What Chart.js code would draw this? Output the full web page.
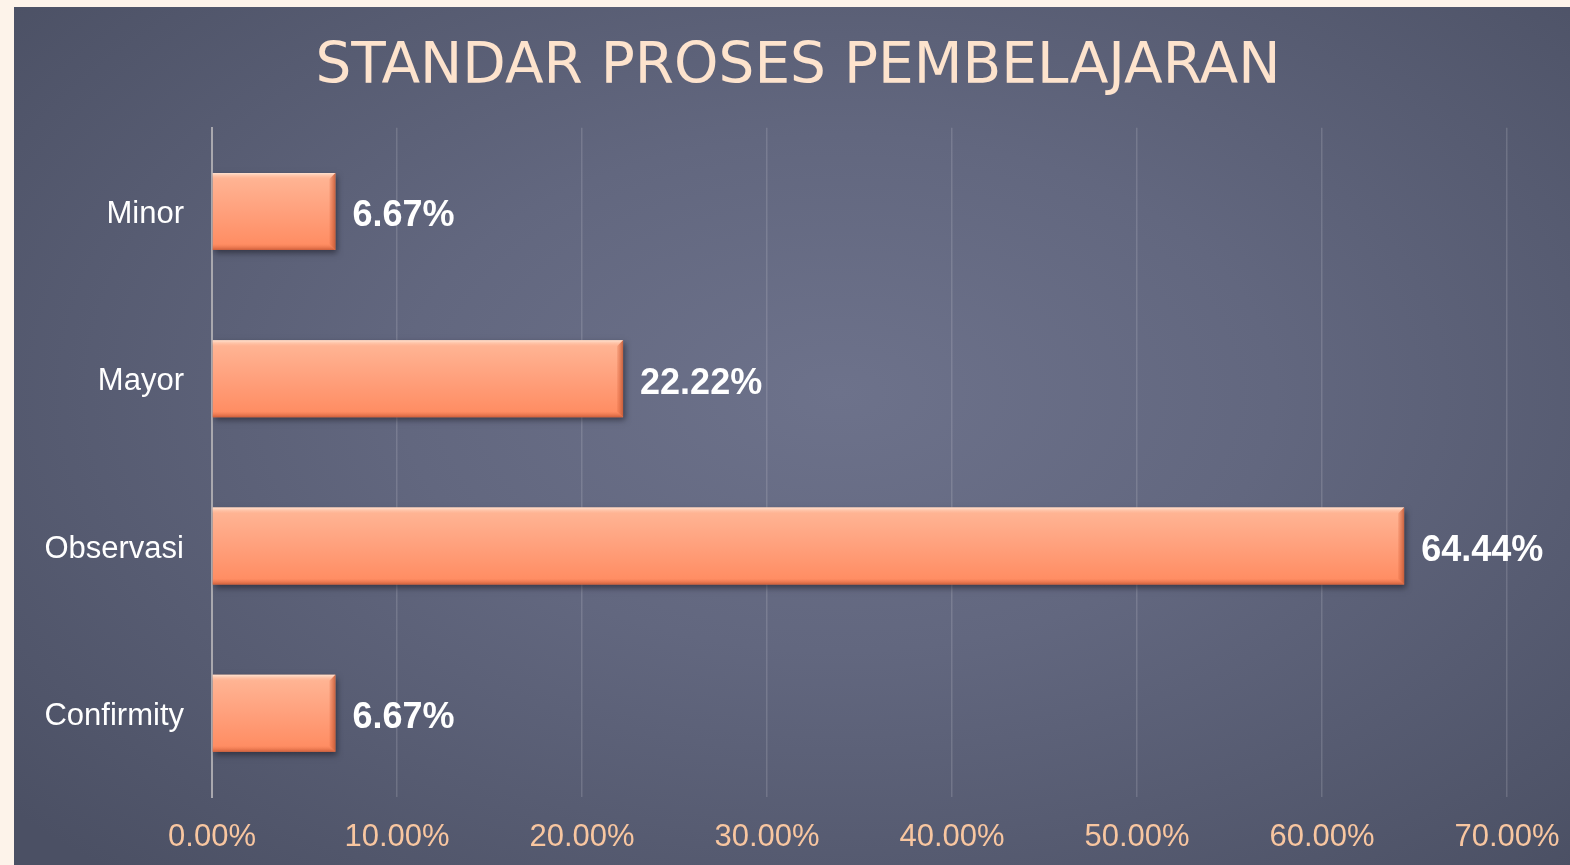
<!DOCTYPE html>
<html>
<head>
<meta charset="utf-8">
<script src="https://cdn.jsdelivr.net/npm/chart.js@4"></script>
<style>
  html, body { margin: 0; padding: 0; background: #fdf3ea; overflow: hidden; }
  #panel {
    position: absolute; left: 14px; top: 7px; width: 1556px; height: 858px;
    background: radial-gradient(ellipse 70% 75% at 53% 45%, #6d728b 0%, #62677f 40%, #4b5064 100%);
  }
</style>
</head>
<body>
<div id="panel"><canvas id="chart" width="1556" height="858"></canvas></div>
<script>
const chartTitle = 'STANDAR PROSES PEMBELAJARAN';
const categories = ['Minor', 'Mayor', 'Observasi', 'Confirmity'];
const values = [6.67, 22.22, 64.44, 6.67];
const axisMax = 70;
const axisStep = 10;

const barPct = 0.46;

function barGradient(ctx) {
	const chart = ctx.chart;
	const y = chart.scales && chart.scales.y;
	if (!y || y.height == null) return '#ff9b72';
	const center = y.getPixelForValue(ctx.dataIndex);
	const half = (y.height / categories.length) * barPct / 2;
	const g = chart.ctx.createLinearGradient(0, center - half, 0, center + half);
	g.addColorStop(0, '#ffb797');
	g.addColorStop(0.5, '#ffa07c');
	g.addColorStop(1, '#ff8a5f');
	return g;
}

// shadow under the bars, then a bevel and the value labels on top
const barStyle = {
	id: 'barStyle',
	beforeDatasetsDraw(chart) {
		const c = chart.ctx;
		c.save();
		c.shadowColor = 'rgba(20,20,30,0.55)';
		c.shadowBlur = 6;
		c.shadowOffsetX = 2;
		c.shadowOffsetY = 3;
	},
	afterDatasetsDraw(chart) {
		const c = chart.ctx;
		c.restore();
		const meta = chart.getDatasetMeta(0);
		meta.data.forEach((el, i) => {
			const left = el.base, right = el.x;
			const top = el.y - el.height / 2, bottom = el.y + el.height / 2;
			const b = 6;
			c.save();
			// top highlight
			let g = c.createLinearGradient(0, top, 0, top + b);
			g.addColorStop(0, '#ffe2d0');
			g.addColorStop(1, 'rgba(255,190,160,0)');
			c.fillStyle = g;
			c.beginPath();
			c.moveTo(left, top); c.lineTo(right, top); c.lineTo(right - b, top + b); c.lineTo(left, top + b);
			c.closePath(); c.fill();
			// right edge
			g = c.createLinearGradient(right - b, 0, right, 0);
			g.addColorStop(0, 'rgba(220,100,60,0.2)');
			g.addColorStop(1, 'rgba(190,85,50,0.85)');
			c.fillStyle = g;
			c.beginPath();
			c.moveTo(right, top); c.lineTo(right, bottom); c.lineTo(right - b, bottom - b); c.lineTo(right - b, top + b);
			c.closePath(); c.fill();
			// bottom edge
			g = c.createLinearGradient(0, bottom - b, 0, bottom);
			g.addColorStop(0, 'rgba(235,120,80,0)');
			g.addColorStop(1, 'rgba(200,90,55,0.9)');
			c.fillStyle = g;
			c.beginPath();
			c.moveTo(left, bottom); c.lineTo(right, bottom); c.lineTo(right - b, bottom - b); c.lineTo(left, bottom - b);
			c.closePath(); c.fill();
			// value label
			c.fillStyle = '#ffffff';
			c.font = 'bold 36px "Liberation Sans", Arial, sans-serif';
			c.textAlign = 'left';
			c.textBaseline = 'middle';
			c.fillText(values[i].toFixed(2) + '%', right + 17, el.y + 5);
			c.restore();
		});
	}
};

new Chart(document.getElementById('chart'), {
	type: 'bar',
	data: {
		labels: categories,
		datasets: [{
			data: values,
			backgroundColor: barGradient,
			borderWidth: 0,
			barPercentage: barPct,
			categoryPercentage: 1
		}]
	},
	options: {
		indexAxis: 'y',
		responsive: false,
		animation: false,
		layout: { padding: { left: 12, right: 0, top: 0, bottom: 0 } },
		plugins: {
			legend: { display: false },
			tooltip: { enabled: false },
			title: {
				display: true,
				text: chartTitle,
				color: '#fde3cd',
				font: { family: '"DejaVu Sans", sans-serif', size: 56.5, weight: 'normal' },
				padding: { top: 27, bottom: 26 }
			}
		},
		scales: {
			x: {
				min: 0,
				max: axisMax,
				ticks: {
					stepSize: axisStep,
					color: '#f8c6a0',
					font: { family: '"Liberation Sans", Arial, sans-serif', size: 31 },
					padding: 22,
					maxRotation: 0,
					callback: v => v.toFixed(2) + '%'
				},
				grid: { color: 'rgba(200,200,210,0.22)', lineWidth: 1.5, drawTicks: false },
				border: { display: false },
				afterFit: s => { s.height = 68; s.paddingLeft = 0; s.paddingRight = 63; }
			},
			y: {
				ticks: {
					color: '#ffffff',
					font: { family: '"Liberation Sans", Arial, sans-serif', size: 31 },
					padding: 28,
					labelOffset: 3
				},
				grid: { display: false, drawTicks: false },
				border: { display: true, color: '#a9a8ae', width: 2 },
				afterFit: s => { s.width = 186; }
			}
		}
	},
	plugins: [barStyle]
});
</script>
</body>
</html>
